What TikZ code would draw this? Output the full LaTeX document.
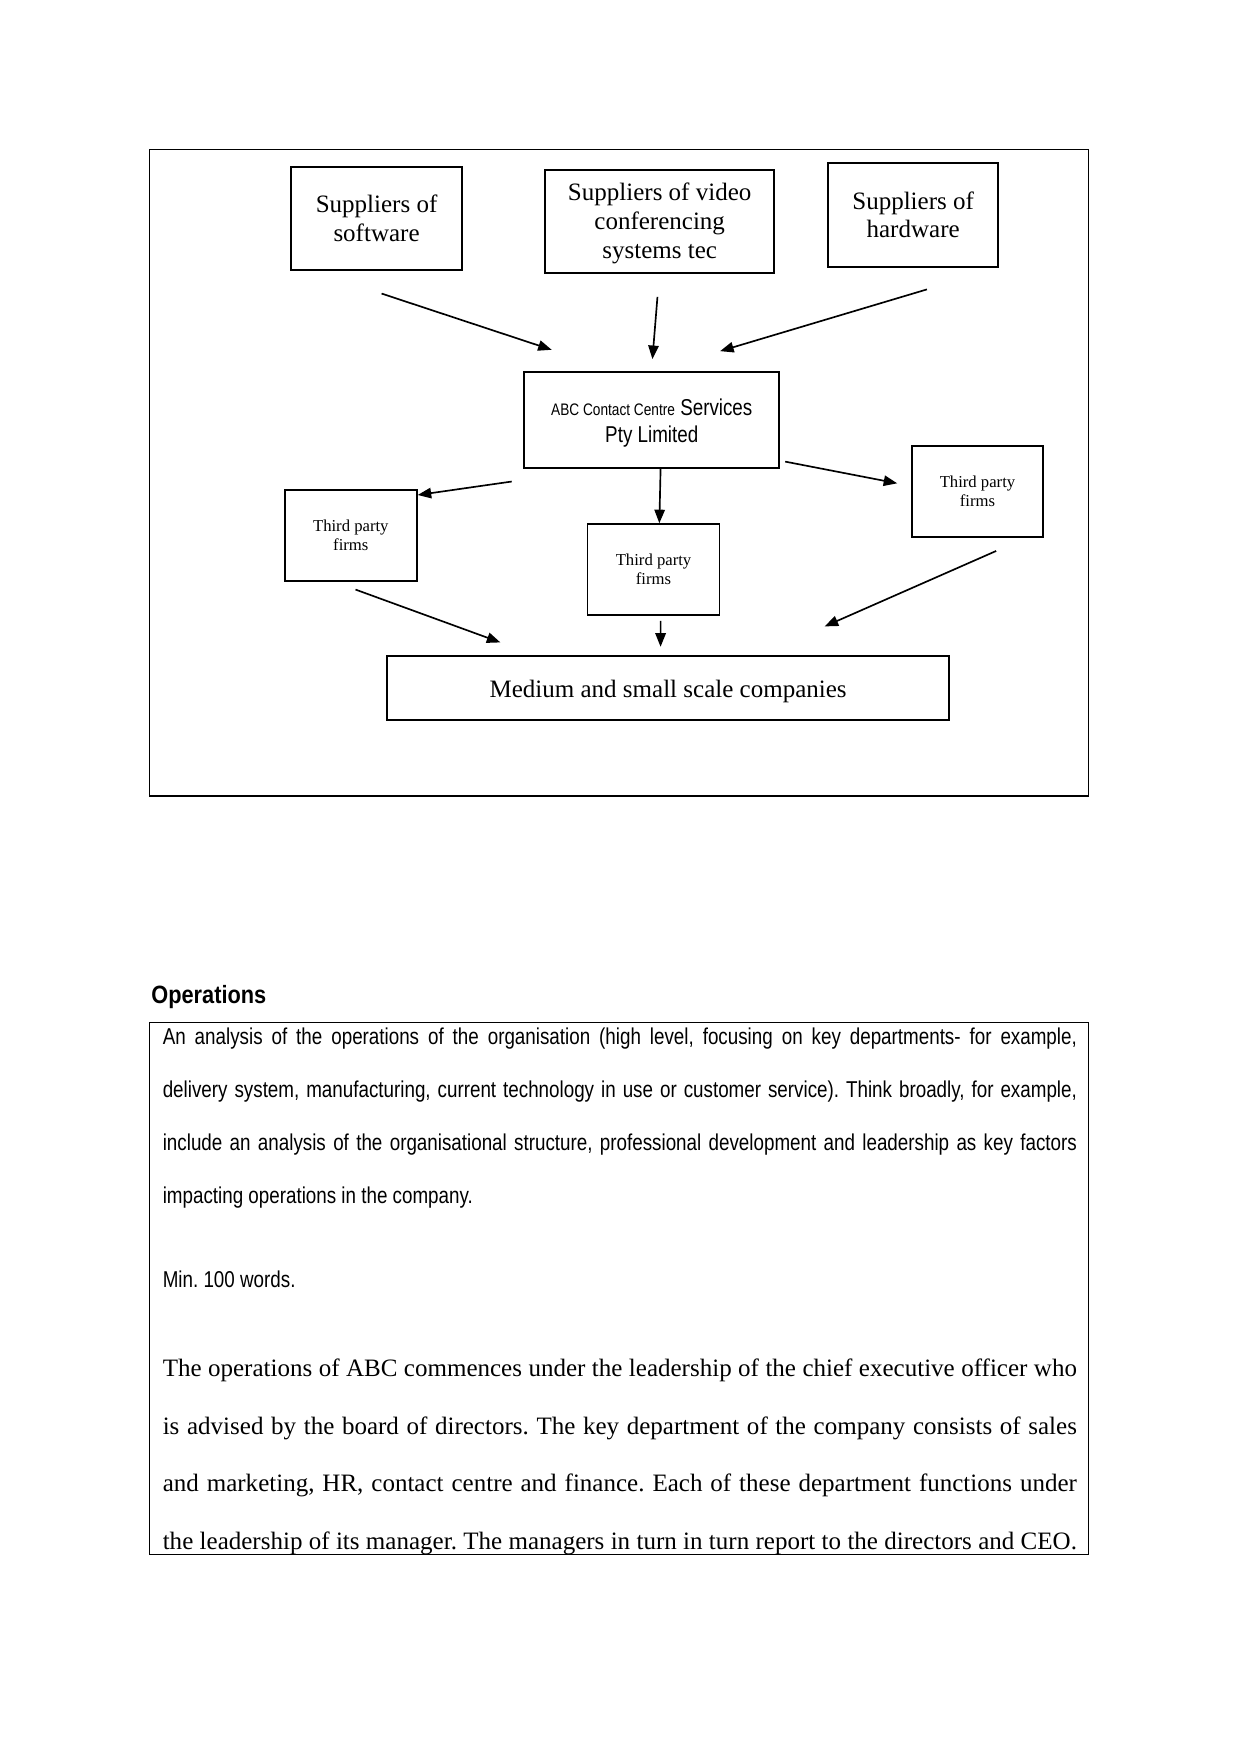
\documentclass[tikz,border=0pt]{standalone}
\usepackage{fontspec}
\setmainfont{Liberation Serif}
\newfontfamily\narrowsans[FakeStretch=0.82]{Liberation Sans}
\newfontfamily\headsans[FakeStretch=0.87]{Liberation Sans}
\usetikzlibrary{arrows.meta}
\newcommand{\justline}[1]{\makebox[438.5pt][s]{#1}}
\newcommand{\lowerby}[1]{\rule{0pt}{#1}}

\begin{document}
\frenchspacing
\begin{tikzpicture}[x=0.5368pt, y=-0.5368pt,
  box/.style={draw, line width=0.9pt, inner sep=0pt, align=center, font=\fontsize{12pt}{13.8pt}\selectfont},
  firmbox/.style={box, minimum width=63.2pt, minimum height=43.6pt, font=\fontsize{8pt}{9.2pt}\selectfont},
  arr/.style={-{Triangle[length=6.5pt,width=5pt]}, line width=0.8pt},
  asktext/.style={anchor=base west, inner sep=0pt, font=\narrowsans\fontsize{11pt}{13pt}\selectfont},
  bodytext/.style={anchor=base west, inner sep=0pt, font=\fontsize{12pt}{14pt}\selectfont}]
\useasboundingbox (0,0) rectangle (1109,1567.4);
% diagram
\draw[line width=0.5pt] (134,134) rectangle (973,711.3);
\node[box, minimum width=82.1pt, minimum height=49.5pt] (soft) at (336.5,195.2) {Suppliers of\\software};
\node[box, minimum width=110pt, minimum height=49.6pt] (video) at (589.5,197.8) {\lowerby{10.3pt}Suppliers of video\\conferencing\\systems tec};
\node[box, minimum width=81.6pt, minimum height=49.9pt] (hard) at (816,191.9) {Suppliers of\\hardware};
\node[box, minimum width=122.5pt, minimum height=45.7pt, font=\narrowsans\fontsize{11pt}{13.1pt}\selectfont] (abc) at (582.4,375.3) {\lowerby{11.2pt}{\fontsize{8pt}{9pt}\selectfont ABC Contact Centre} Services\\Pty Limited};
\node[firmbox] (firmL) at (313.5,478.5) {Third party\\firms};
\node[firmbox, minimum width=63.3pt] (firmM) at (584,509) {Third party\\firms};
\node[firmbox, minimum width=62.8pt, minimum height=43.8pt] (firmR) at (873.5,439.1) {Third party\\firms};
\node[box, minimum width=269.5pt, minimum height=30.8pt] (firms) at (597,614.7) {\lowerby{11.4pt}Medium and small scale companies};
\draw[arr] ([shift={(4.5,20.2)}]soft.south) -- ([shift={(-89.4,-19.3)}]abc.north);
\draw[arr] ([shift={(-2,20.5)}]video.south) -- ([shift={(0.6,-11)}]abc.north);
\draw[arr] ([shift={(12.3,19.4)}]hard.south) -- ([shift={(61.1,-18.1)}]abc.north);
\draw[arr] ([shift={(-125.1,11.6)}]abc.south) -- ([shift={(0,5.3)}]firmL.north east);
\draw[arr] ([shift={(7.9,0)}]abc.south) -- ([shift={(5.2,0)}]firmM.north);
\draw[arr] ([shift={(4.3,-6.2)}]abc.south east) -- ([shift={(-12.4,-7.2)}]firmR.west);
\draw[arr] ([shift={(4.2,6.9)}]firmL.south) -- ([shift={(102,-11.1)}]firms.north west);
\draw[arr] ([shift={(6.3,4.4)}]firmM.south) -- ([shift={(-6.7,-7.2)}]firms.north);
\draw[arr] ([shift={(16.7,11.6)}]firmR.south) -- ([shift={(139.9,-25.4)}]firms.north);
% operations
\node[anchor=base west, inner sep=0pt, font=\headsans\bfseries\fontsize{12pt}{14pt}\selectfont] (ophead) at (134.9,896.6) {Operations};
\draw[line width=0.5pt] (134,913.6) rectangle (973,1389);
\node[asktext] (ask1) at (145.1,933.3) {\justline{An analysis of the operations of the organisation (high level, focusing on key departments- for example,}};
\node[asktext] (ask2) at (145.1,980.6) {\justline{delivery system, manufacturing, current technology in use or customer service). Think broadly, for example,}};
\node[asktext] (ask3) at (145.1,1027.9) {\justline{include an analysis of the organisational structure, professional development and leadership as key factors}};
\node[asktext] (ask4) at (145.1,1075.2) {impacting operations in the company.};
\node[asktext] (ask5) at (145.1,1150.4) {Min. 100 words.};
\node[bodytext] (body1) at (145.1,1230) {\justline{The operations of ABC commences under the leadership of the chief executive officer who}};
\node[bodytext] (body2) at (145.1,1281.5) {\justline{is advised by the board of directors. The key department of the company consists of sales}};
\node[bodytext] (body3) at (145.1,1333) {\justline{and marketing, HR, contact centre and finance. Each of these department functions under}};
\node[bodytext] (body4) at (145.1,1384.5) {\justline{the leadership of its manager. The managers in turn in turn report to the directors and CEO.}};
\end{tikzpicture}
\end{document}
